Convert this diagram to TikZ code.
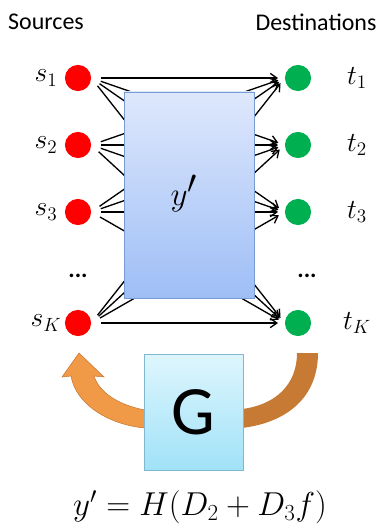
\documentclass[tikz,border=0pt]{standalone}
\usepackage{fontspec}
\setmainfont{Carlito}
\usepackage{tikz}
\usetikzlibrary{arrows.meta, positioning}

\definecolor{srcred}{RGB}{255,0,0}
\definecolor{dstgreen}{RGB}{0,176,80}
\definecolor{boxtop}{RGB}{222,232,252}
\definecolor{boxbot}{RGB}{158,190,246}
\definecolor{boxline}{RGB}{120,156,210}
\definecolor{gtop}{RGB}{222,246,253}
\definecolor{gbot}{RGB}{160,226,248}
\definecolor{gline}{RGB}{128,184,208}
\definecolor{backorange}{RGB}{240,154,72}
\definecolor{backedge}{RGB}{200,118,50}
\definecolor{fwdbrown}{RGB}{198,122,52}

\begin{document}
\begin{tikzpicture}[x=0.0264cm, y=-0.0264cm, >={Straight Barb[length=5pt, width=7pt]},
    src/.style={circle, fill=srcred, inner sep=0pt, minimum size=0.69cm},
    dst/.style={circle, fill=dstgreen, inner sep=0pt, minimum size=0.69cm},
    lbl/.style={font=\fontsize{18}{20}\selectfont},
    mlbl/.style={font=\fontsize{21}{24}\selectfont},
    flow/.style={->, line width=1pt, shorten <=7.5pt, shorten >=5pt}]

    \useasboundingbox (0,0) rectangle (381,531);

    % Encabezados
    \node[lbl] (srchead) at (46,22) {Sources};
    \node[lbl] (dsthead) at (316,22) {Destinations};

    % Fuentes y destinos
    \foreach \i/\yy/\nm in {1/78/1, 2/145/2, 3/212/3, 4/323/K}{
        \node[src] (s\i) at (78,\yy) {};
        \node[dst] (t\i) at (298,\yy) {};
        \node[mlbl] (sl\i) at (46,\yy) {$s_{\nm}$};
        \node[mlbl] (tl\i) at (357,\yy) {$t_{\nm}$};
    }
    \node[lbl] (sdots) at (78,276) {\textbf{...}};
    \node[lbl] (tdots) at (307,276) {\textbf{...}};

    % Flujos
    \foreach \i in {1,...,4}{
        \foreach \j in {1,...,4}{
            \draw[flow] (s\i.east) -- (t\j.west);
        }
    }

    % Caja y'
    \node[draw=boxline, top color=boxtop, bottom color=boxbot,
        minimum width=3.43cm, minimum height=5.44cm] (ybox) at (189,195) {};
    \node[font=\fontsize{54}{58}\selectfont] (ylbl) at (184,194) {$y'$};

    % Flechas de realimentacion
    \fill[backorange, draw=backedge, line width=0.4pt]
        (145,410) .. controls (118,405) and (99,392) .. (94,376)
        -- (104,377) -- (79,353) -- (62,377) -- (71,376)
        .. controls (76,405) and (110,425) .. (145,428) -- cycle;
    \fill[fwdbrown]
        (297,353) .. controls (297,385) and (275,405) .. (242,409)
        -- (242,428) .. controls (290,422) and (318,395) .. (318,353) -- cycle;

    % Caja G
    \node[draw=gline, top color=gtop, bottom color=gbot,
        minimum width=2.61cm, minimum height=3.06cm,
        font=\fontsize{52}{56}\selectfont] (gbox) at (193.5,412) {G};

    % Ecuacion
    \node[font=\fontsize{24}{28}\selectfont] (eq) at (200,507) {$y' = H(D_2 + D_3 f)$};

\end{tikzpicture}
\end{document}
